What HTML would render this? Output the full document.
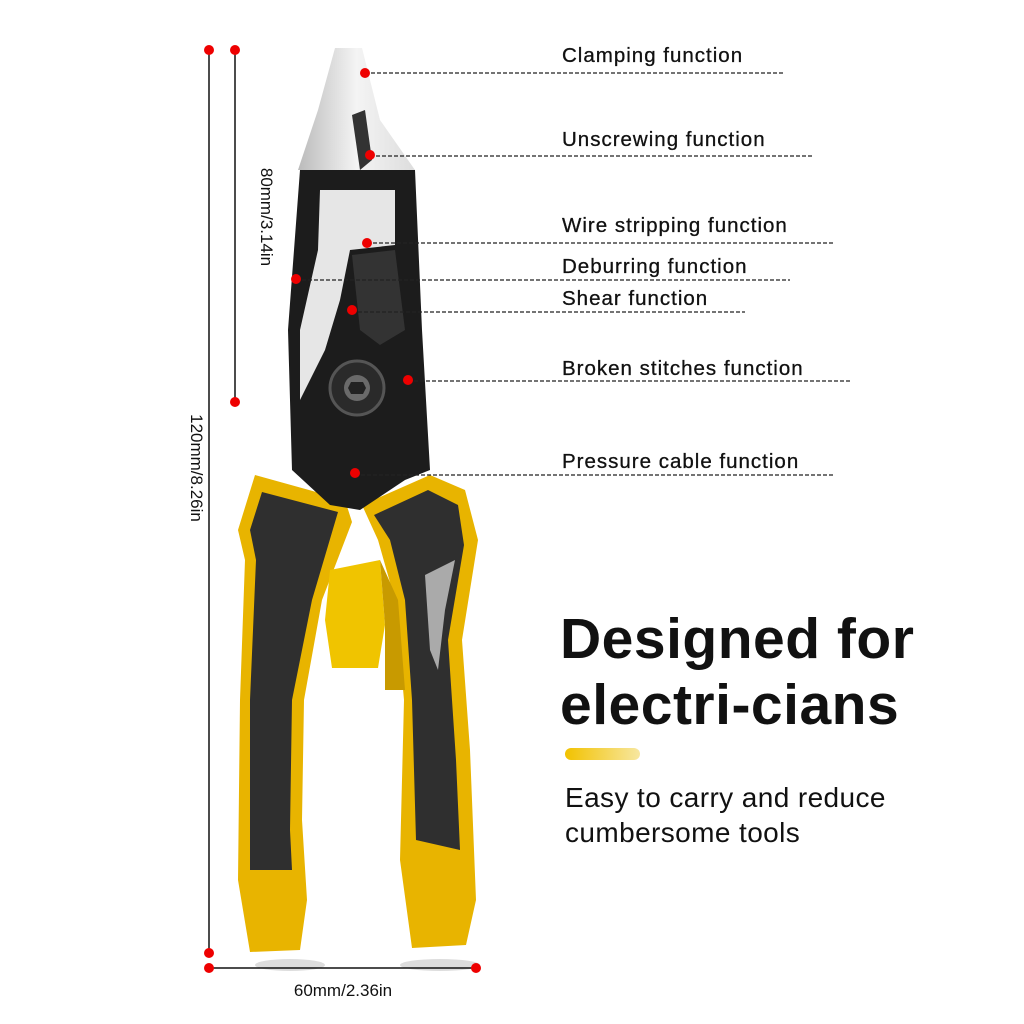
<!DOCTYPE html>
<html><head><style>
html,body{margin:0;padding:0;background:#fff}
body{width:1024px;height:1024px;position:relative;overflow:hidden;font-family:"Liberation Sans",sans-serif}
.l{position:absolute;left:562px;font-size:20.5px;color:#111;letter-spacing:1px;-webkit-text-stroke:0.3px #111}
</style></head><body>
<svg width="1024" height="1024" style="position:absolute;left:0;top:0">
<defs>
<linearGradient id="sv" x1="0" x2="1"><stop offset="0" stop-color="#bbb"/><stop offset="0.5" stop-color="#f4f4f4"/><stop offset="1" stop-color="#ddd"/></linearGradient>
<linearGradient id="yb" x1="0" x2="1"><stop offset="0" stop-color="#f2c200"/><stop offset="1" stop-color="#f7e7a0"/></linearGradient>
</defs>
<ellipse cx="290" cy="965" rx="35" ry="6" fill="#ddd"/>
<ellipse cx="440" cy="965" rx="40" ry="6" fill="#ddd"/>
<!-- left handle -->
<path d="M255,475 L345,500 L352,522 L322,600 L304,700 L302,820 L307,900 L300,950 L250,952 L238,880 L240,700 L245,560 L238,530 Z" fill="#e8b400"/>
<path d="M262,492 L338,512 L312,600 L292,700 L290,830 L292,870 L250,870 L250,700 L256,560 L250,530 Z" fill="#2f2f2f"/>
<!-- right handle -->
<path d="M362,505 L430,475 L465,490 L478,540 L462,640 L470,750 L476,900 L466,945 L412,948 L400,860 L404,700 L395,600 L378,540 Z" fill="#e8b400"/>
<path d="M374,515 L428,490 L458,505 L464,545 L448,640 L456,760 L460,850 L416,840 L412,700 L405,600 L390,540 Z" fill="#2f2f2f"/>
<path d="M425,575 L455,560 L445,610 L438,670 L430,650 Z" fill="#aaa"/>
<path d="M330,570 L380,560 L385,625 L378,668 L332,668 L325,620 Z" fill="#f0c400"/>
<path d="M380,560 L398,600 L405,690 L385,690 L385,625 Z" fill="#c89a00"/>
<!-- head -->
<path d="M300,170 L415,170 L422,330 L430,470 L405,480 L360,510 L330,505 L292,470 L288,330 Z" fill="#1c1c1c"/>
<path d="M320,190 L395,190 L395,245 L350,250 L340,300 L325,350 L300,400 L300,330 L318,250 Z" fill="#e6e6e6"/>
<path d="M352,255 L395,250 L405,330 L380,345 L360,330 Z" fill="#333"/>
<path d="M335,48 L362,48 L380,120 L415,170 L298,170 L318,110 Z" fill="url(#sv)"/>
<path d="M352,115 L365,110 L372,160 L360,170 Z" fill="#333"/>
<circle cx="357" cy="388" r="27" fill="#2a2a2a" stroke="#555" stroke-width="3"/>
<circle cx="357" cy="388" r="13" fill="#6a6a6a"/>
<polygon points="351,382 363,382 366,388 363,394 351,394 348,388" fill="#222"/>
<g stroke="#111" stroke-width="1.5">
<line x1="209" y1="50" x2="209" y2="953"/>
<line x1="235" y1="50" x2="235" y2="402"/>
<line x1="209" y1="968" x2="476" y2="968"/>
</g>
<g fill="#e00">
<circle cx="209" cy="50" r="5"/><circle cx="209" cy="953" r="5"/>
<circle cx="235" cy="50" r="5"/><circle cx="235" cy="402" r="5"/>
<circle cx="209" cy="968" r="5"/><circle cx="476" cy="968" r="5"/>
</g>
<g stroke="#222" stroke-width="1.2" stroke-dasharray="4,2">
<line x1="365" y1="73" x2="783" y2="73"/>
<line x1="370" y1="156" x2="812" y2="156"/>
<line x1="367" y1="243" x2="833" y2="243"/>
<line x1="296" y1="280" x2="790" y2="280"/>
<line x1="352" y1="312" x2="745" y2="312"/>
<line x1="408" y1="381" x2="851" y2="381"/>
<line x1="355" y1="475" x2="833" y2="475"/>
</g>
<g fill="#e00">
<circle cx="365" cy="73" r="5"/><circle cx="370" cy="155" r="5"/>
<circle cx="367" cy="243" r="5"/><circle cx="296" cy="279" r="5"/>
<circle cx="352" cy="310" r="5"/><circle cx="408" cy="380" r="5"/>
<circle cx="355" cy="473" r="5"/>
</g>
<text x="255" y="217" font-family="Liberation Sans" font-size="17" fill="#111" text-anchor="middle" transform="rotate(90 255 217)" dy="-6">80mm/3.14in</text>
<text x="185" y="468" font-family="Liberation Sans" font-size="17" fill="#111" text-anchor="middle" transform="rotate(90 185 468)" dy="-6">120mm/8.26in</text>
<text x="343" y="996" font-family="Liberation Sans" font-size="17" fill="#111" text-anchor="middle">60mm/2.36in</text>
<rect x="565" y="748" width="75" height="12" rx="6" fill="url(#yb)"/>
</svg>
<div class="l" style="top:44px">Clamping function</div>
<div class="l" style="top:128px">Unscrewing function</div>
<div class="l" style="top:214px">Wire stripping function</div>
<div class="l" style="top:255px">Deburring function</div>
<div class="l" style="top:287px">Shear function</div>
<div class="l" style="top:357px">Broken stitches function</div>
<div class="l" style="top:450px">Pressure cable function</div>
<div style="position:absolute;left:560px;top:606px;font-size:57px;font-weight:bold;line-height:66px;color:#111;letter-spacing:0.5px">Designed for<br>electri-cians</div>
<div style="position:absolute;left:565px;top:780px;font-size:28px;line-height:35px;color:#111;letter-spacing:0.4px">Easy to carry and reduce<br>cumbersome tools</div>
</body></html>
